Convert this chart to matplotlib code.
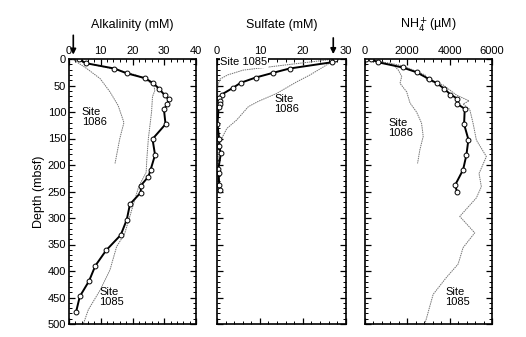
import matplotlib
matplotlib.use('Agg')
import matplotlib.pyplot as plt
from matplotlib.ticker import MultipleLocator

plt.rcParams['font.family'] = ['Liberation Sans', 'DejaVu Sans']
plt.rcParams['font.size'] = 8

# Site 1085 (measured, with circles)
alk_depth = [0, 8, 18, 27, 36, 46, 57, 68, 76, 85, 95, 123, 151, 181, 209, 222,
             239, 252, 274, 303, 332, 361, 390, 419, 448, 478]
alk_val = [3.0, 5.4, 14.3, 18.2, 23.9, 26.6, 28.5, 30.1, 31.4, 31.0, 29.9, 30.4,
           26.3, 27.1, 25.7, 25.0, 22.6, 22.6, 19.2, 18.2, 16.3, 11.7, 8.3, 6.3, 3.4, 2.2]
# comparison profiles (dotted grey)
alk85_depth = [0, 10, 20, 30, 40, 50, 60, 71, 100, 150, 190, 214, 240, 280, 330,
               354, 398, 436, 473, 500]
alk85_val = [1.0, 7.0, 15.0, 21.0, 24.5, 26.8, 27.0, 26.3, 26.0, 25.0, 24.5, 24.3,
             22.0, 20.0, 17.5, 15.0, 12.9, 9.8, 6.1, 4.5]
alk86_depth = [0, 18, 37, 62, 88, 120, 150, 197]
alk86_val = [1.0, 5.6, 9.8, 12.9, 15.5, 17.3, 16.0, 14.5]

sul_depth = [0, 6, 18, 26, 35, 45, 54, 67, 73, 79, 84, 90, 123, 150, 165, 178,
             208, 215, 237, 248]
sul_val = [27.5, 26.9, 16.9, 13.1, 9.0, 5.5, 3.8, 1.1, 0.5, 0.6, 0.7, 0.4, 0.1,
           0.5, 0.5, 0.9, 0.3, 0.4, 0.5, 0.7]
sul85_depth = [0, 11, 21, 30, 38, 50, 100, 150, 200, 250]
sul85_val = [27.5, 16.2, 6.1, 2.5, 0.7, 0.2, 0.1, 0.1, 0.1, 0.1]
sul86_depth = [0, 11, 30, 43, 65, 80, 90, 115, 131, 153, 165, 200, 250]
sul86_val = [28.0, 25.6, 21.7, 18.6, 13.9, 9.6, 7.3, 4.6, 2.3, 0.9, 0.5, 0.3, 0.3]

nh4_depth = [0, 0, 6, 16, 25, 38, 46, 56, 67, 75, 85, 94, 123, 152, 181, 209, 238, 251]
nh4_val = [50, 280, 611, 1786, 2444, 3039, 3415, 3744, 4042, 4371, 4371, 4715, 4684,
           4888, 4794, 4637, 4261, 4355]
nh485_depth = [0, 8, 13, 30, 40, 46, 49, 68, 79, 85, 95, 121, 153, 184, 216, 241,
               262, 297, 328, 356, 387, 412, 444, 500]
nh485_val = [0, 1190, 1805, 2842, 2920, 3470, 3697, 4324, 4919, 4637, 4950, 5107,
             5264, 5734, 5389, 5498, 5264, 4480, 5185, 4637, 4402, 3854, 3227, 2836]
nh486_depth = [0, 5, 11, 21, 33, 46, 62, 83, 100, 121, 146, 171, 197]
nh486_val = [0, 643, 1350, 1586, 1743, 1665, 1979, 2136, 2444, 2679, 2758, 2601, 2491]

fig = plt.figure(figsize=(5.26, 3.37), dpi=100)
W, H = 526, 337
boxes = [(69, 196), (217, 345.7), (364.7, 492)]
top, bot = 59, 324
axes = []
for l, r in boxes:
    ax = fig.add_axes([l / W, 1 - bot / H, (r - l) / W, (bot - top) / H])
    axes.append(ax)

panels = [
    (alk_val, alk_depth, alk85_val, alk85_depth, alk86_val, alk86_depth,
     (0, 40), 10, 2, 'Alkalinity (mM)'),
    (sul_val, sul_depth, sul85_val, sul85_depth, sul86_val, sul86_depth,
     (0, 30), 10, 2, 'Sulfate (mM)'),
    (nh4_val, nh4_depth, nh485_val, nh485_depth, nh486_val, nh486_depth,
     (0, 6000), 2000, 400, r'NH$_4^+$(µM)'),
]

for i, (ax, p) in enumerate(zip(axes, panels)):
    v, d, v85, d85, v86, d86, xlim, maj, mnr, title = p
    ax.plot(v85, d85, color='0.45', lw=0.7, ls=(0, (1.5, 0.8)))
    ax.plot(v86, d86, color='0.45', lw=0.7, ls=(0, (1.5, 0.8)))
    ax.plot(v, d, color='black', lw=1.4, marker='o', ms=3.5, mfc='white',
            mec='black', mew=0.7)
    ax.set_xlim(*xlim)
    ax.set_ylim(500, 0)
    ax.xaxis.set_major_locator(MultipleLocator(maj))
    ax.xaxis.set_minor_locator(MultipleLocator(mnr))
    ax.yaxis.set_major_locator(MultipleLocator(50))
    ax.yaxis.set_minor_locator(MultipleLocator(10))
    ax.xaxis.tick_top()
    ax.tick_params(which='both', direction='in', top=True, bottom=True,
                   left=True, right=True, labelsize=8, pad=2)
    ax.tick_params(which='major', length=4, width=0.9)
    ax.tick_params(which='minor', length=2, width=0.7)
    for s in ax.spines.values():
        s.set_linewidth(1.2)
    ax.set_title(title, fontsize=9, pad=22)
    if i > 0:
        ax.set_yticklabels([])

axes[0].set_ylabel('Depth (mbsf)', fontsize=9, labelpad=2)

# seawater arrows
arrow = dict(arrowstyle='-|>', color='black', lw=1.2, mutation_scale=8)
axes[0].annotate('', xy=(1.35, -3), xytext=(1.35, -50), arrowprops=arrow,
                 annotation_clip=False)
axes[1].annotate('', xy=(27.1, -4), xytext=(27.1, -45), arrowprops=arrow,
                 annotation_clip=False)

fs = 8
axes[0].text(4, 125, 'Site\n1086', fontsize=fs, linespacing=1.0)
axes[0].text(9.5, 465, 'Site\n1085', fontsize=fs, linespacing=1.0)
axes[1].text(0.7, 12, 'Site 1085', fontsize=fs,
             bbox=dict(facecolor='white', edgecolor='none', pad=0.3))
axes[1].text(13.3, 100, 'Site\n1086', fontsize=fs, linespacing=1.0)
axes[2].text(1100, 145, 'Site\n1086', fontsize=fs, linespacing=1.0)
axes[2].text(3800, 465, 'Site\n1085', fontsize=fs, linespacing=1.0)

fig.savefig('out.png', dpi=100, facecolor='white')
